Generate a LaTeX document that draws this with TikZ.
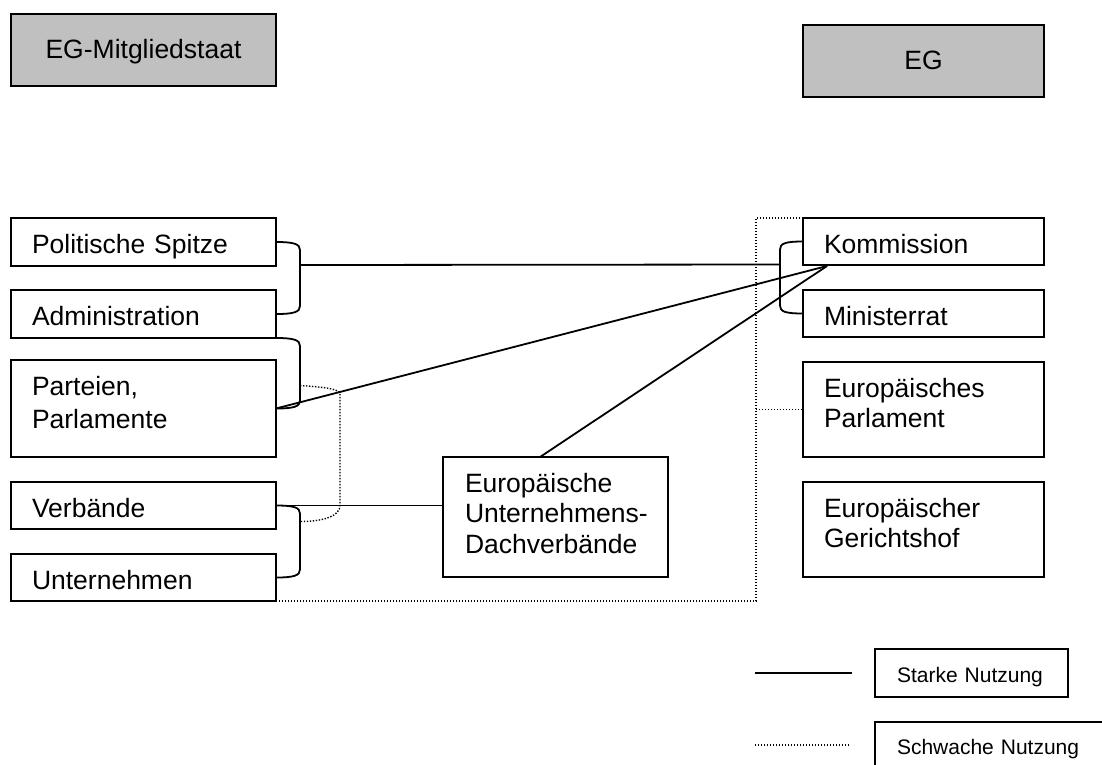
\documentclass[tikz,border=0pt]{standalone}
\usepackage{fontspec}
\setmainfont{Liberation Sans}
\usetikzlibrary{calc}
\definecolor{headgray}{RGB}{192,192,192}
\hyphenpenalty=10000
\exhyphenpenalty=10000
\begin{document}
\begin{tikzpicture}[x=1pt,y=-1pt,
  bodyfont/.style={font=\fontsize{26.5}{30.5}\selectfont},
  % text boxes: the first baseline sits 35pt below the top edge
  unit/.style={draw, line width=1.8pt, anchor=north west, inner xsep=21pt,
    inner ysep=0pt, outer sep=0pt, align=left, bodyfont, text height=35pt},
  head/.style={draw, line width=1.8pt, anchor=north west, fill=headgray,
    inner sep=0pt, outer sep=0pt, align=center, bodyfont, text height=44pt},
  legendbox/.style={draw, line width=1.8pt, anchor=north west, inner xsep=22pt,
    inner ysep=0pt, outer sep=0pt, align=left, font=\fontsize{21}{25}\selectfont,
    text height=33pt},
  strong/.style={line width=1.8pt},
  weak/.style={line width=1.4pt, dash pattern=on 1.4pt off 1.6pt}]

\useasboundingbox (0,0) rectangle (1102,764);
\fill[white] (0,0) rectangle (1102,764);

\begin{scope}
\clip (0,0) rectangle (1102,764);

% headings
\node[head, minimum width=265pt, text depth=28pt] (mit) at (11,14) {EG-Mitgliedstaat};
\node[head, minimum width=241pt, text depth=28pt] (eg) at (803,25) {EG};

% member-state actors
\node[unit, text width=223pt, text depth=13pt] (pol) at (11,218) {Politische Spitze};
\node[unit, text width=223pt, text depth=13pt] (adm) at (11,290) {Administration};
\node[unit, text width=223pt, text depth=62pt, font=\fontsize{26.5}{33}\selectfont] (par) at (11,360) {Parteien,\\Parlamente};
\node[unit, text width=223pt, text depth=12pt] (ver) at (11,482) {Verbände};
\node[unit, text width=223pt, text depth=12pt] (unt) at (11,554) {Unternehmen};

% umbrella associations
\node[unit, inner xsep=22pt, text width=181pt, text depth=85pt] (eud) at (443,457)
  {Europäische\\Unternehmens-\\Dachverbände};

% EC institutions
\node[unit, text width=199pt, text depth=12pt] (kom) at (803,218) {Kommission};
\node[unit, text width=199pt, text depth=12pt] (min) at (803,290) {Ministerrat};
\node[unit, text width=199pt, text depth=60pt] (ep) at (803,362) {Europäisches\\Parlament};
\node[unit, text width=199pt, text depth=60pt] (egh) at (803,482) {Europäischer\\Gerichtshof};

% brackets grouping neighbouring actors
\draw[strong] (pol.east) .. controls +(18,0) and +(0,-6) .. ($(pol.east)+(24,8)$)
  -- ($(adm.east)+(24,-8)$) .. controls +(0,6) and +(18,0) .. (adm.east);
\draw[strong] (adm.south east) .. controls +(18,0) and +(0,-6) .. ($(adm.south east)+(24,8)$)
  -- ($(par.east)+(24,-8)$) .. controls +(0,6) and +(18,0) .. (par.east);
\draw[strong] (ver.east) .. controls +(18,0) and +(0,-6) .. ($(ver.east)+(24,8)$)
  -- ($(unt.east)+(24,-8)$) .. controls +(0,6) and +(18,0) .. (unt.east);
\draw[strong] (kom.west) .. controls +(-18,0) and +(0,-6) .. ($(kom.west)+(-23,8)$)
  -- ($(min.west)+(-23,-8)$) .. controls +(0,6) and +(-18,0) .. (min.west);

% strong channels
\coordinate (kx) at ($(kom.south west)+(24,1)$);
\coordinate (et) at ($(eud.north west)+(97,0)$);
\draw[strong] ($(pol.east)+(24,23)$) -- ($(kom.west)+(-23,23)$);
\draw[strong] (par.east) -- (kx);
\draw[strong] (et) -- (kx);
\draw[strong] (ver.east) -- (ver.east -| eud.west);

% weak channels
\draw[weak] ($(par.east)+(24,-23)$) .. controls +(30,2) and +(0,-5) .. ($(par.east)+(64,-14)$)
  -- ($(ver.east)+(64,0)$) .. controls +(0,10) and +(25,0) .. ($(ver.east)+(24,16)$);
\coordinate (dx) at ($(kom.north west)+(-47,0)$);
\draw[weak] (unt.south east) -| (dx) -- (kom.north west);
\draw[weak] (ep.west -| dx) -- (ep.west);

% legend
\node[legendbox, text width=149pt, text depth=15pt] (lgs) at (875,649) {Starke Nutzung};
\node[legendbox, text width=216pt, text height=32pt, text depth=28pt] (lgw) at (875,722) {Schwache Nutzung};
\coordinate (ls1) at (755,673);
\coordinate (ls2) at (852,673);
\coordinate (lw1) at (755,745);
\coordinate (lw2) at (849,745);
\draw[strong] (ls1) -- (ls2);
\draw[weak] (lw1) -- (lw2);
\end{scope}
\end{tikzpicture}
\end{document}
